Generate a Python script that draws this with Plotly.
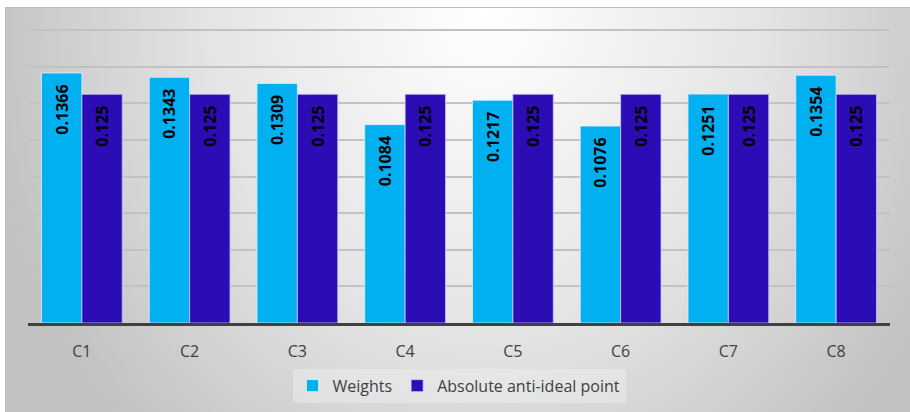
import base64
import plotly.graph_objects as go

categories = ["C1", "C2", "C3", "C4", "C5", "C6", "C7", "C8"]
weights = [0.1366, 0.1343, 0.1309, 0.1084, 0.1217, 0.1076, 0.1251, 0.1354]
anti_ideal = [0.125, 0.125, 0.125, 0.125, 0.125, 0.125, 0.125, 0.125]
weight_labels = ["0.1366", "0.1343", "0.1309", "0.1084", "0.1217", "0.1076", "0.1251", "0.1354"]
anti_labels = ["0.125"] * 8

W, H = 910, 412
ML, MR, MT, MB = 28, 20, 28, 89
PW, PH = W - ML - MR, H - MT - MB
YMAX = 0.1612

svg = f'''<svg xmlns="http://www.w3.org/2000/svg" width="905" height="405" viewBox="0 0 905 405" preserveAspectRatio="none">
<defs><radialGradient id="g" cx="0.53" cy="0" r="0.56" gradientUnits="objectBoundingBox" gradientTransform="translate(0.53,0) scale(1,2.6) translate(-0.53,0)">
<stop offset="0" stop-color="#ffffff"/><stop offset="0.55" stop-color="#e4e4e4"/><stop offset="1" stop-color="#c2c2c2"/></radialGradient></defs>
<rect x="0.5" y="0.5" width="905" height="405" fill="url(#g)" stroke="#bdbdbd" stroke-width="1"/>
</svg>'''
src = "data:image/svg+xml;base64," + base64.b64encode(svg.encode()).decode()

label_font = dict(family="Open Sans", size=16, color="#000000", weight="bold")

fig = go.Figure()
fig.add_trace(go.Bar(
    x=categories, y=weights, name="Weights", text=[t + "  " for t in weight_labels],
    marker=dict(color="#00B0F0", line=dict(color="rgba(220,240,255,0.8)", width=1)),
    textposition="inside", insidetextanchor="end", textangle=-90,
    textfont=label_font, insidetextfont=label_font,
    hoverinfo="skip",
))
fig.add_trace(go.Bar(
    x=categories, y=anti_ideal, name="Absolute anti-ideal point", text=[t + "  " for t in anti_labels],
    marker=dict(color="#2C0CB4", line=dict(color="rgba(200,200,255,0.8)", width=1)),
    textposition="inside", insidetextanchor="end", textangle=-90,
    textfont=label_font, insidetextfont=label_font,
    hoverinfo="skip",
))

fig.update_layout(
    width=W, height=H,
    margin=dict(l=ML, r=MR, t=MT, b=MB, autoexpand=False),
    paper_bgcolor="#ffffff", plot_bgcolor="rgba(0,0,0,0)",
    barmode="group", bargap=0.25, bargroupgap=0,
    uniformtext=dict(minsize=16, mode="show"),
    font=dict(family="Open Sans", color="#404040"),
    images=[dict(source=src, xref="paper", yref="paper",
                 x=(5 - ML) / PW, y=(H - MB - 7) / PH,
                 sizex=(W - 5) / PW, sizey=(H - 7) / PH,
                 xanchor="left", yanchor="top", sizing="stretch", layer="below")],
    xaxis=dict(showgrid=False, showline=True, linecolor="#404040", linewidth=2.5,
               ticks="", ticklabelstandoff=12, tickfont=dict(size=16, color="#404040")),
    yaxis=dict(range=[0, YMAX], tickvals=[0.02, 0.04, 0.06, 0.08, 0.10, 0.12, 0.14, 0.16],
               showgrid=True, gridcolor="#c2c2c2",
               gridwidth=1.5, showticklabels=False, zeroline=False, showline=False),
    legend=dict(orientation="h", x=0.5, xanchor="center", y=-0.155, yanchor="top",
                bgcolor="rgba(240,240,240,0.45)", font=dict(size=16, color="#404040"),
                itemwidth=30, traceorder="normal"),
    showlegend=True,
)

fig.write_html("out.html")
